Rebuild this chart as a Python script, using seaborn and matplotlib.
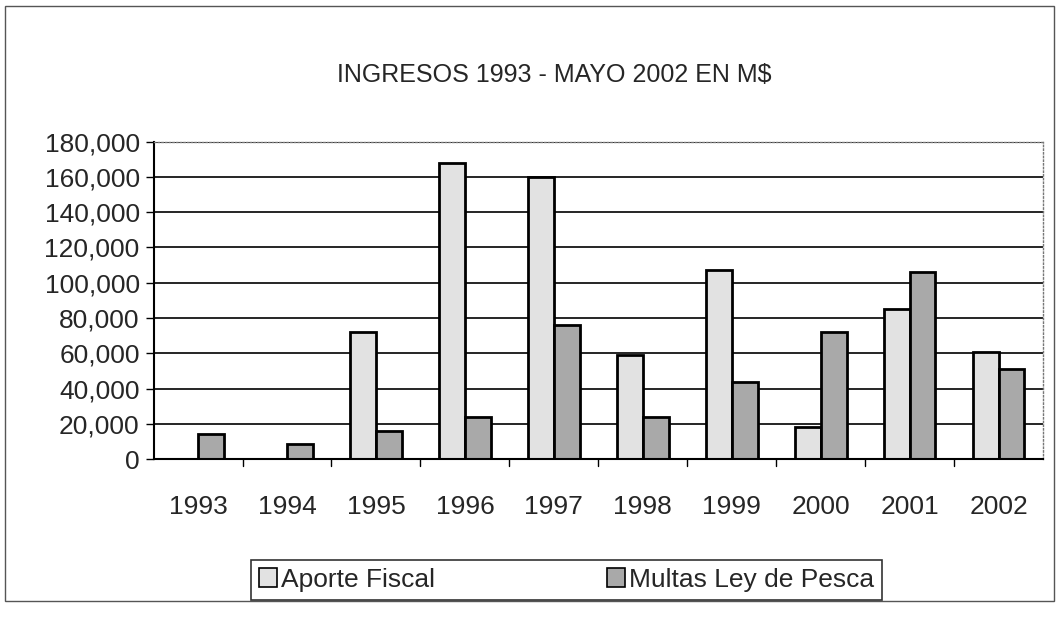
import pandas as pd
import numpy as np
import matplotlib.pyplot as plt
import seaborn as sns
from matplotlib.patches import Rectangle

# Data (values in M$)
years = ["1993", "1994", "1995", "1996", "1997", "1998", "1999", "2000", "2001", "2002"]
aporte_fiscal = [0, 0, 72000, 168000, 160000, 59000, 107000, 18000, 85000, 61000]
multas_pesca = [14000, 8500, 16000, 24000, 76000, 24000, 44000, 72000, 106000, 51000]
series_names = ["Aporte Fiscal", "Multas Ley de Pesca"]
bar_colors = ["#e2e2e2", "#a9a9a9"]

df = pd.DataFrame({
    "Año": years * 2,
    "Valor": aporte_fiscal + multas_pesca,
    "Serie": [series_names[0]] * len(years) + [series_names[1]] * len(years),
})

sns.set_theme(style="white")
plt.rcParams['font.family'] = ['Liberation Sans', 'DejaVu Sans']

fig = plt.figure(figsize=(10.59, 6.29), dpi=100)
ax = fig.add_axes([0.145, 0.27, 0.84, 0.505])

sns.barplot(data=df, x="Año", y="Valor", hue="Serie", palette=bar_colors,
            width=0.58, edgecolor="black", linewidth=2, ax=ax, legend=False)

ax.set_ylim(0, 180000)
ax.set_yticks(np.arange(0, 180001, 20000))
ax.set_yticklabels([f"{v:,}" for v in range(0, 180001, 20000)], fontsize=19)
ax.set_xticks(range(len(years)))
ax.set_xticklabels(years, fontsize=19)
ax.tick_params(axis="x", length=0, pad=26)
ax.tick_params(axis="y", length=6, width=1, color="black", left=True, pad=4)
ax.set_xlabel("")
ax.set_ylabel("")
ax.set_xlim(-0.5, len(years) - 0.5)

# group separator ticks on the x axis
for b in np.arange(0.5, len(years) - 0.5, 1):
    ax.plot([b, b], [0, -0.02], transform=ax.get_xaxis_transform(),
            color="black", lw=1, clip_on=False)

ax.yaxis.grid(True, color="black", linewidth=1.2)
ax.set_axisbelow(True)
for side in ["left", "bottom"]:
    ax.spines[side].set_color("black")
    ax.spines[side].set_linewidth(1.5)
for side in ["top", "right"]:
    ax.spines[side].set_color("#777777")
    ax.spines[side].set_linestyle(":")
    ax.spines[side].set_linewidth(1)

fig.text(0.523, 0.88, "INGRESOS 1993 - MAYO 2002 EN M$", ha="center",
         va="center", fontsize=18)

handles = [Rectangle((0, 0), 1, 1, facecolor=c, edgecolor="black", lw=1.2)
           for c in bar_colors]
leg = fig.legend(handles, series_names, loc="center", ncol=2,
                 bbox_to_anchor=(0.535, 0.078), fontsize=19, frameon=True,
                 fancybox=False, edgecolor="black", columnspacing=6.5,
                 handlelength=0.7, handleheight=0.7, handletextpad=0.15,
                 borderpad=0.3, borderaxespad=0)
leg.get_frame().set_linewidth(1.2)

# outer chart border
fig.patches.append(Rectangle((0.005, 0.045), 0.99, 0.945, transform=fig.transFigure,
                             fill=False, edgecolor="#555555", lw=1))

fig.savefig("out.png", dpi=100)
